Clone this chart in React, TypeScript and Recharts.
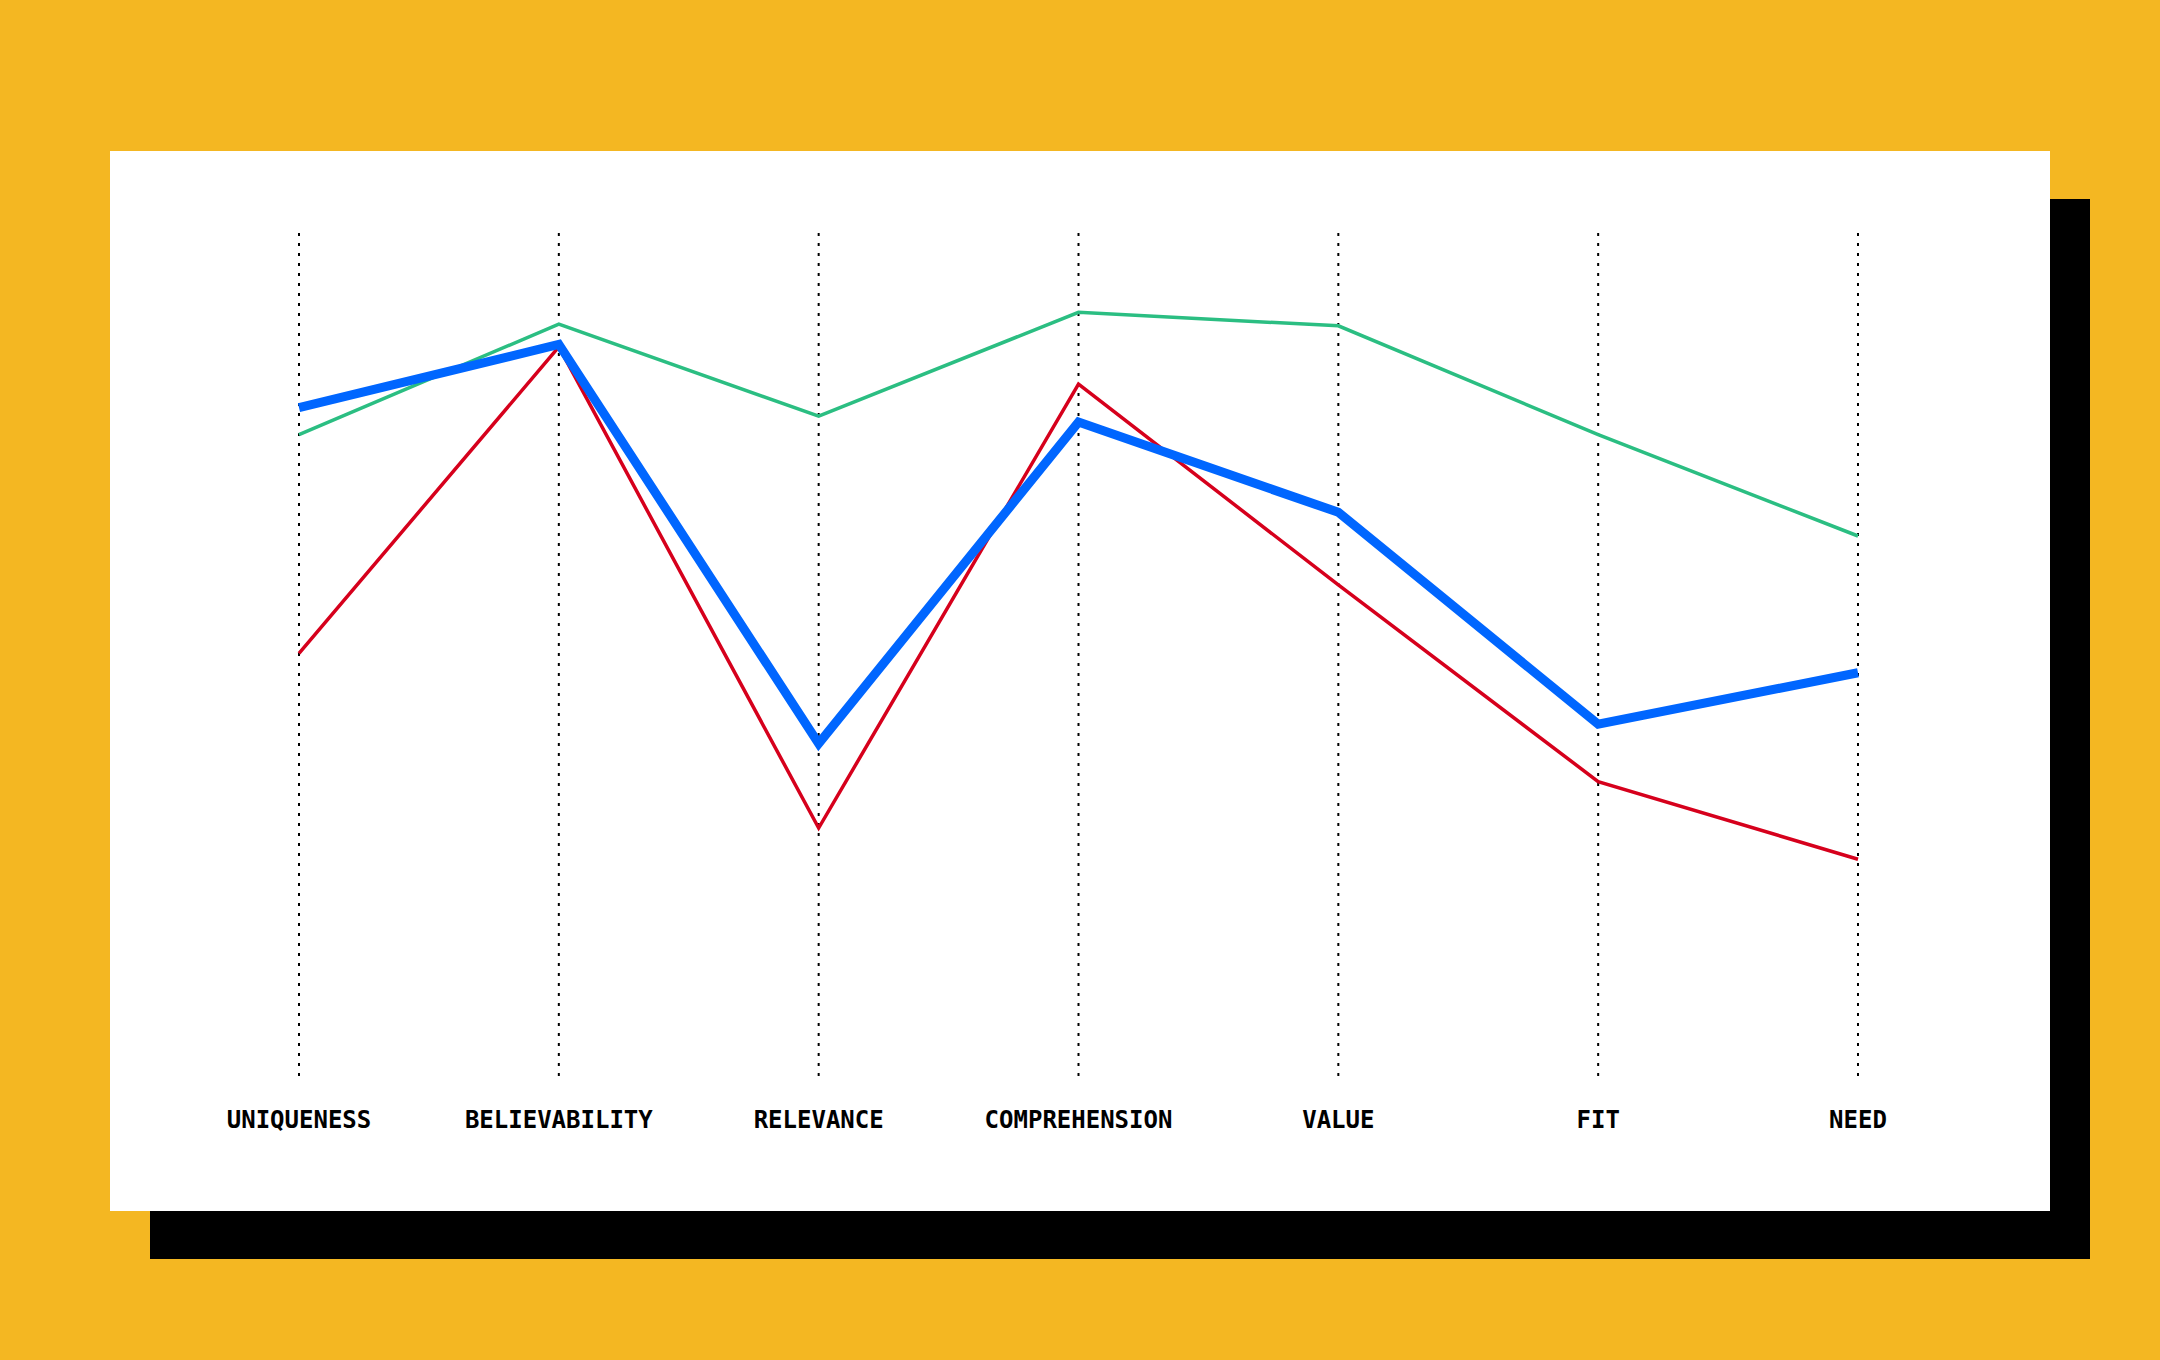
import React from 'react';
import { LineChart, Line, XAxis, YAxis, CartesianGrid } from 'recharts';

// categories along the x axis
const categories = ['UNIQUENESS', 'BELIEVABILITY', 'RELEVANCE', 'COMPREHENSION', 'VALUE', 'FIT', 'NEED'];

// scores per series (0-100 scale)
const greenScores = [76.1, 89.2, 78.3, 90.6, 89.0, 76.1, 64.1];
const redScores = [50.2, 86.5, 29.5, 82.1, 58.3, 35.0, 25.8];
const blueScores = [79.3, 86.8, 39.5, 77.6, 66.9, 41.8, 47.9];

const chartData = categories.map((name, i) => ({
    name,
    green: greenScores[i],
    red: redScores[i],
    blue: blueScores[i],
}));

// label under each dotted guide
const CategoryTick = ({ x, y, payload }: any) => (
    <text
        x={x}
        y={y + 51}
        textAnchor="middle"
        fontFamily="'DejaVu Sans Mono', monospace"
        fontWeight="bold"
        fontSize={24}
        fill="#000"
    >
        {payload.value}
    </text>
);

export default function App() {
    return (
        <div
            style={{
                position: 'absolute',
                left: 0,
                top: 0,
                width: 2160,
                height: 1360,
                background: '#F4B722',
                overflow: 'hidden',
            }}
        >
            {/* card with hard black offset shadow */}
            <div
                style={{
                    position: 'absolute',
                    left: 110,
                    top: 151,
                    width: 1940,
                    height: 1060,
                    background: '#fff',
                    boxShadow: '40px 48px 0 0 #000',
                }}
            >
                <LineChart
                    width={1940}
                    height={1060}
                    data={chartData}
                    margin={{ top: 82, right: 192, left: 189, bottom: 74 }}
                >
                    <CartesianGrid horizontal={false} stroke="#000" strokeWidth={2} strokeDasharray="3 7" />
                    <XAxis
                        dataKey="name"
                        axisLine={false}
                        tickLine={false}
                        tickSize={0}
                        tickMargin={0}
                        height={60}
                        interval={0}
                        tick={<CategoryTick />}
                    />
                    <YAxis hide domain={[0, 100]} />
                    <Line
                        type="linear"
                        dataKey="green"
                        stroke="#2BBE82"
                        strokeWidth={3.5}
                        dot={false}
                        activeDot={false}
                        isAnimationActive={false}
                    />
                    <Line
                        type="linear"
                        dataKey="red"
                        stroke="#D6001C"
                        strokeWidth={3.5}
                        dot={false}
                        activeDot={false}
                        isAnimationActive={false}
                    />
                    <Line
                        type="linear"
                        dataKey="blue"
                        stroke="#0066FF"
                        strokeWidth={9}
                        dot={false}
                        activeDot={false}
                        isAnimationActive={false}
                    />
                </LineChart>
            </div>
        </div>
    );
}
